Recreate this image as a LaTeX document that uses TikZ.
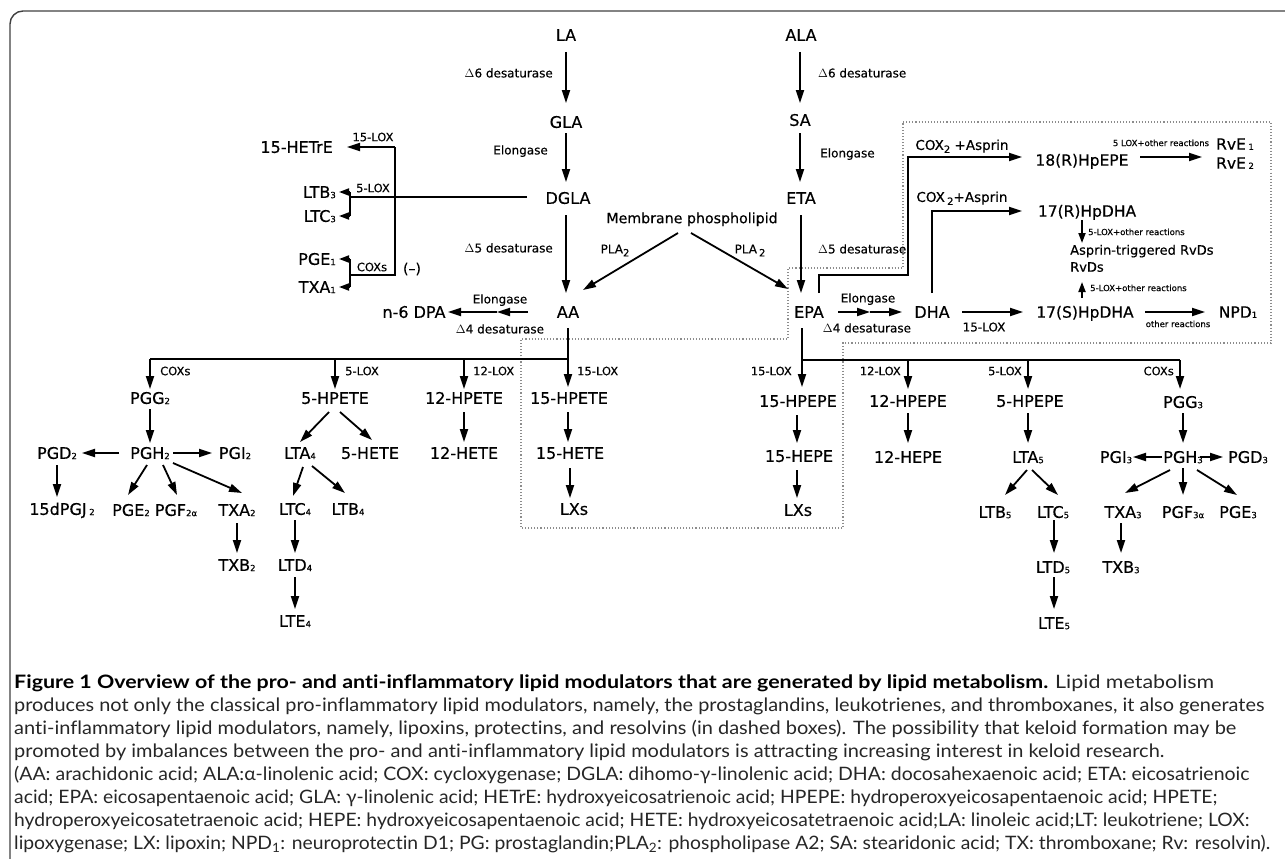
\documentclass[tikz,border=0pt]{standalone}
\usepackage{fontspec}
\usetikzlibrary{arrows.meta,calc}
\setmainfont[FakeBold=0.45]{DejaVu Sans}
\newfontfamily\capfont[Ligatures=NoCommon]{Lato}
\newcommand\sbs[1]{\raisebox{-0.3pt}{\fontsize{8.5}{8.5}\selectfont #1}}
\newcommand\sbl[1]{\raisebox{-3pt}{\fontsize{10}{10}\selectfont #1}}
\begin{document}
\begin{tikzpicture}[x=1pt,y=-1pt,
  nm/.style={font=\fontsize{16}{16}\selectfont, inner sep=0pt, text height=11.7pt, text depth=0pt},
  rv/.style={font=\fontsize{15.5}{15.5}\selectfont, inner sep=0pt, text height=11.3pt, text depth=0pt},
  lab/.style={font=\fontsize{12}{12}\selectfont, inner sep=0pt, text height=8.8pt, text depth=0pt},
  enz/.style={font=\fontsize{11.5}{11.5}\selectfont, inner sep=0pt, text height=8.4pt, text depth=0pt},
  tinylab/.style={font=\fontsize{8.5}{8.5}\selectfont, inner sep=0pt, text height=6.2pt, text depth=0pt},
  arr/.style={line width=1.8pt, -{Triangle[length=13pt,width=8pt]}},
  sarr/.style={line width=1.8pt, -{Triangle[length=10pt,width=7pt]}},
  ln/.style={line width=1.8pt},
  dotbox/.style={black!45, line width=1.1pt, dotted},
  captxt/.style={font=\capfont\fontsize{18.5}{18.5}\selectfont, inner sep=0pt, text=black!85, anchor=base west},
  ]
\useasboundingbox (0,0) rectangle (1285,859);
\clip (0,0) rectangle (1285,859);

% frame
\draw[line width=1.4pt, black!75, rounded corners=13pt] (10,870) -- (10,11) -- (1320,11);

% dotted box
\draw[dotbox] (903,122) -- (1271,122) -- (1271,343) -- (843,343) -- (843,528) -- (521,528)
  -- (521,339) -- (788,339) -- (788,268) -- (903,268) -- cycle;

% ---------- top nodes ----------
\node[nm] (LA) at (566,35) {LA};
\node[nm] (GLA) at (566,122) {GLA};
\node[nm] (DGLA) at (568,198) {DGLA};
\node[nm] (AA) at (568,312) {AA};
\node[nm] (ALA) at (801,35) {ALA};
\node[nm] (SA) at (800,120) {SA};
\node[nm] (ETA) at (801,198) {ETA};
\node[nm] (EPA) at (809,312) {EPA};
\node[nm] (DHA) at (932,312) {DHA};
\node[nm] (n6) at (414,312) {n-6 DPA};
\node[font=\fontsize{14.2}{14.2}\selectfont, inner sep=0pt, text height=10.4pt, text depth=0pt] (mem) at (692,218) {Membrane phospholipid};

\node[lab, anchor=east] (d6L) at (553,73) {$\Delta$6 desaturase};
\node[lab, anchor=west] (d6R) at (818,73) {$\Delta$6 desaturase};
\node[lab, anchor=east] (elL) at (548,150) {Elongase};
\node[lab, anchor=west] (elR) at (820,153) {Elongase};
\node[lab, anchor=east] (d5L) at (553,248) {$\Delta$5 desaturase};
\node[lab, anchor=west] (d5R) at (818,249) {$\Delta$5 desaturase};
\node[lab] (plaL) at (615,249) {PLA\sbl{2}};
\node[lab] (plaR) at (750,249) {PLA\,\sbl{2}};
\node[lab] (el2L) at (500,299) {Elongase};
\node[lab] (d4L) at (500,329) {$\Delta$4 desaturase};
\node[lab] (el2R) at (868,298) {Elongase};
\node[lab] (d4R) at (867,328) {$\Delta$4 desaturase};

\draw[arr] ([shift={(0,17)}]LA.center) -- ([shift={(0,-19)}]GLA.center);
\draw[arr] ([shift={(0,11)}]GLA.center) -- ([shift={(-2,-16)}]DGLA.center);
\draw[arr] ([shift={(-2,17)}]DGLA.center) -- ([shift={(-2,-19)}]AA.center);
\draw[arr] ([shift={(-1,17)}]ALA.center) -- ([shift={(0,-17)}]SA.center);
\draw[arr] ([shift={(0,13)}]SA.center) -- ([shift={(-1,-16)}]ETA.center);
\draw[arr] ([shift={(0,17)}]ETA.center) -- ([shift={(-8,-19)}]EPA.center);
\draw[arr] ([shift={(-14,15)}]mem.center) -- ([shift={(15,-22)}]AA.center);
\draw[arr] ([shift={(-1,15)}]mem.center) -- ([shift={(-21,-23)}]EPA.center);

\coordinate (m1) at (497,312);
\draw[arr] ([shift={(-40,0)}]AA.center) -- (m1);
\draw[arr] (m1) -- ([shift={(34,0)}]n6.center);
\coordinate (m2) at (870,312);
\draw[arr] ([shift={(29,0)}]EPA.center) -- (m2);
\draw[arr] (m2) -- ([shift={(-30,0)}]DHA.center);

% ---------- DGLA side branch ----------
\node[nm, anchor=east] (HETrE) at (333,147) {15-HETrE};
\node[nm, anchor=east] (LTB3) at (336,192) {LTB\sbs{3}};
\node[nm, anchor=east] (LTC3) at (336,216) {LTC\sbs{3}};
\node[nm, anchor=east] (PGE1) at (336,259) {PGE\sbs{1}};
\node[nm, anchor=east] (TXA1) at (336,287) {TXA\sbs{1}};
\node[enz] (l15a) at (373,137) {15-LOX};
\node[enz] (l5a) at (373,188) {5-LOX};
\node[enz] (cxa) at (372,267) {COXs};
\node[font=\fontsize{14}{14}\selectfont, inner sep=0pt] (neg) at (412,269) {(--)};

\coordinate (b5) at (350,197);
\coordinate (b5t) at (350,192);
\coordinate (b5b) at (350,216);
\coordinate (v15t) at (395,147);
\coordinate (v15b) at (395,275);
\coordinate (bc) at (350,275);
\coordinate (bct) at (350,259);
\coordinate (bcb) at (350,287);
\draw[ln] ([shift={(-41,-1)}]DGLA.center) -- (b5);
\draw[ln] (b5t) -- (b5b);
\draw[ln] (v15t) -- (v15b) -- (bc);
\draw[ln] (bct) -- (bcb);
\draw[sarr] (b5t) -- ([xshift=3pt]LTB3.east);
\draw[sarr] (b5b) -- ([xshift=3pt]LTC3.east);
\draw[sarr] (bct) -- ([xshift=3pt]PGE1.east);
\draw[sarr] (bcb) -- ([xshift=3pt]TXA1.east);
\draw[arr] (v15t) -- ([xshift=14pt]HETrE.east);

% ---------- resolvin box ----------
\node[rv] (hp18) at (1082,160) {18(R)HpEPE};
\node[rv] (hp17R) at (1087,211) {17(R)HpDHA};
\node[rv] (hp17S) at (1085,312) {17(S)HpDHA};
\node[rv] (RvE1) at (1235,144) {RvE\,\sbs{1}};
\node[rv] (RvE2) at (1235,163) {RvE\,\sbs{2}};
\node[rv] (NPD) at (1238,312) {NPD\sbs{1}};
\node[font=\fontsize{13}{13}\selectfont, inner sep=0pt, text height=9.4pt, text depth=0pt, anchor=west] (atRvD) at (1070,250) {Asprin-triggered RvDs};
\node[font=\fontsize{13}{13}\selectfont, inner sep=0pt, text height=9.4pt, text depth=0pt, anchor=west] (RvDs) at (1070,267) {RvDs};
\node[font=\fontsize{13.5}{13.5}\selectfont, inner sep=0pt, text height=9.8pt, text depth=0pt] (cx1) at (962,145) {COX\sbl{2} +Asprin};
\node[font=\fontsize{13.5}{13.5}\selectfont, inner sep=0pt, text height=9.8pt, text depth=0pt] (cx2) at (962,197) {COX\,\sbl{2}+Asprin};
\node[tinylab] (r1) at (1161,143) {5 LOX+other reactions};
\node[tinylab, anchor=west] (r2) at (1088,232) {5-LOX+other reactions};
\node[tinylab, anchor=west] (r3) at (1090,288) {5-LOX+other reactions};
\node[tinylab] (r4) at (1178,324) {other reactions};
\node[lab] (l15d) at (984,327) {15-LOX};

\coordinate (c1a) at (819,275);
\coordinate (c1b) at (908,275);
\coordinate (c1c) at (908,157);
\draw[arr] ([shift={(10,-19)}]EPA.center) -- (c1a) -- (c1b) -- (c1c) -- ([shift={(-60,-3)}]hp18.center);
\draw[arr] ([shift={(58,-3)}]hp18.center) -- ([shift={(-33,13)}]RvE1.center);
\coordinate (c2a) at (932,211);
\draw[arr] ([shift={(0,-19)}]DHA.center) -- (c2a) -- ([shift={(-65,0)}]hp17R.center);
\draw[sarr] ([shift={(-5,9)}]hp17R.center) -- ([shift={(12,-7)}]atRvD.west);
\draw[sarr] ([shift={(-3,-14)}]hp17S.center) -- ([shift={(12,15)}]RvDs.west);
\draw[arr] ([shift={(30,0)}]DHA.center) -- ([shift={(-62,0)}]hp17S.center);
\draw[arr] ([shift={(60,0)}]hp17S.center) -- ([shift={(-33,0)}]NPD.center);

% ---------- AA lower tree ----------
\node[nm] (PGG2) at (150,398) {PGG\sbs{2}};
\node[nm] (HPETE5) at (335,398) {5-HPETE};
\node[nm] (HPETE12) at (464,398) {12-HPETE};
\node[nm] (HPETE15) at (569,398) {15-HPETE};
\node[nm] (PGD2) at (57,453) {PGD\sbs{2}};
\node[nm] (PGH2) at (150,453) {PGH\sbs{2}};
\node[nm] (PGI2) at (235,453) {PGI\sbs{2}};
\node[nm] (LTA4) at (300,453) {LTA\sbs{4}};
\node[nm] (HETE5) at (370,453) {5-HETE};
\node[nm] (HETE12) at (464,453) {12-HETE};
\node[nm] (HETE15) at (570,453) {15-HETE};
\node[nm] (PGJ2) at (62,509) {15dPGJ\,\sbs{2}};
\node[nm] (PGE2) at (131,510) {PGE\sbs{2}};
\node[nm] (PGF2) at (176,510) {PGF\sbs{2α}};
\node[nm] (TXA2) at (237,510) {TXA\sbs{2}};
\node[nm] (LTC4) at (295,509) {LTC\sbs{4}};
\node[nm] (LTB4) at (348,509) {LTB\sbs{4}};
\node[nm] (LXa) at (574,509) {LXs};
\node[nm] (TXB2) at (237,565) {TXB\sbs{2}};
\node[nm] (LTD4) at (295,565) {LTD\sbs{4}};
\node[nm] (LTE4) at (295,621) {LTE\sbs{4}};

\node[enz, anchor=west] (cxL) at (160,371) {COXs};
\node[enz, anchor=west] (l5L) at (345,371) {5-LOX};
\node[enz, anchor=west] (l12L) at (473,371) {12-LOX};
\node[enz, anchor=west] (l15L) at (577,371) {15-LOX};

\coordinate (bl) at (150,359);
\coordinate (b5L) at (335,359);
\coordinate (b12L) at (464,359);
\draw[ln] (bl) -- (AA |- bl);
\draw[arr] ([shift={(0,16)}]AA.center) -- ([shift={(-1,-11)}]HPETE15.center);
\draw[arr] (bl) -- ([shift={(0,-9)}]PGG2.center);
\draw[arr] (b5L) -- ([shift={(0,-9)}]HPETE5.center);
\draw[arr] (b12L) -- ([shift={(0,-9)}]HPETE12.center);

\draw[arr] ([shift={(0,11)}]PGG2.center) -- ([shift={(0,-10)}]PGH2.center);
\draw[arr] ([shift={(-31,0)}]PGH2.center) -- ([shift={(25,0)}]PGD2.center);
\draw[arr] ([shift={(23,0)}]PGH2.center) -- ([shift={(-23,0)}]PGI2.center);
\draw[arr] ([shift={(0,12)}]PGD2.center) -- ([shift={(-5,-12)}]PGJ2.center);
\draw[arr] ([shift={(-3,12)}]PGH2.center) -- ([shift={(-3,-15)}]PGE2.center);
\draw[arr] ([shift={(13,12)}]PGH2.center) -- ([shift={(1,-15)}]PGF2.center);
\draw[arr] ([shift={(23,10)}]PGH2.center) -- ([shift={(5,-17)}]TXA2.center);
\draw[arr] ([shift={(0,13)}]TXA2.center) -- ([shift={(0,-12)}]TXB2.center);
\draw[arr] ([shift={(-6,14)}]HPETE5.center) -- ([shift={(0,-11)}]LTA4.center);
\draw[arr] ([shift={(5,14)}]HPETE5.center) -- ([shift={(2,-13)}]HETE5.center);
\draw[arr] ([shift={(3,14)}]LTA4.center) -- ([shift={(-2,-13)}]LTC4.center);
\draw[arr] ([shift={(12,13)}]LTA4.center) -- ([shift={(-3,-16)}]LTB4.center);
\draw[arr] ([shift={(0,11)}]LTC4.center) -- ([shift={(0,-12)}]LTD4.center);
\draw[arr] ([shift={(0,12)}]LTD4.center) -- ([shift={(0,-12)}]LTE4.center);
\draw[arr] ([shift={(0,14)}]HPETE12.center) -- ([shift={(0,-11)}]HETE12.center);
\draw[arr] ([shift={(-1,14)}]HPETE15.center) -- ([shift={(-2,-11)}]HETE15.center);
\draw[arr] ([shift={(0,15)}]HETE15.center) -- ([shift={(-4,-11)}]LXa.center);

% ---------- EPA lower tree ----------
\node[nm] (HPEPE15) at (798,401) {15-HPEPE};
\node[nm] (HPEPE12) at (908,401) {12-HPEPE};
\node[nm] (HPEPE5) at (1030,401) {5-HPEPE};
\node[nm] (PGG3) at (1183,402) {PGG\sbs{3}};
\node[nm] (HEPE15) at (799,456) {15-HEPE};
\node[nm] (HEPE12) at (908,457) {12-HEPE};
\node[nm] (LTA5) at (1028,457) {LTA\sbs{5}};
\node[nm] (PGI3) at (1116,457) {PGI\sbs{3}};
\node[nm] (PGH3) at (1183,457) {PGH\sbs{3}};
\node[nm] (PGD3) at (1248,457) {PGD\sbs{3}};
\node[nm] (LXb) at (798,510) {LXs};
\node[nm] (LTB5) at (995,512) {LTB\sbs{5}};
\node[nm] (LTC5) at (1053,512) {LTC\sbs{5}};
\node[nm] (TXA3) at (1123,512) {TXA\sbs{3}};
\node[nm] (PGF3) at (1183,512) {PGF\sbs{3α}};
\node[nm] (PGE3) at (1238,512) {PGE\sbs{3}};
\node[nm] (LTD5) at (1053,567) {LTD\sbs{5}};
\node[nm] (TXB3) at (1121,567) {TXB\sbs{3}};
\node[nm] (LTE5) at (1054,623) {LTE\sbs{5}};

\node[enz, anchor=east] (l15R) at (792,371) {15-LOX};
\node[enz, anchor=east] (l12R) at (901,371) {12-LOX};
\node[enz, anchor=east] (l5R) at (1022,371) {5-LOX};
\node[enz, anchor=east] (cxR) at (1174,371) {COXs};

\coordinate (bE) at (802,360);
\coordinate (b12R) at (908,360);
\coordinate (b5R) at (1028,360);
\coordinate (bR) at (1180,360);
\draw[ln] (bE) -- (bR);
\draw[arr] ([shift={(-7,16)}]EPA.center) -- ([shift={(4,-14)}]HPEPE15.center);
\draw[arr] (b12R) -- ([shift={(0,-12)}]HPEPE12.center);
\draw[arr] (b5R) -- ([shift={(-2,-12)}]HPEPE5.center);
\draw[arr] (bR) -- ([shift={(-3,-13)}]PGG3.center);

\draw[arr] ([shift={(-1,14)}]HPEPE15.center) -- ([shift={(-2,-13)}]HEPE15.center);
\draw[arr] ([shift={(-2,14)}]HEPE15.center) -- ([shift={(-1,-12)}]LXb.center);
\draw[arr] ([shift={(0,12)}]HPEPE12.center) -- ([shift={(0,-14)}]HEPE12.center);
\draw[arr] ([shift={(-2,12)}]HPEPE5.center) -- ([shift={(0,-14)}]LTA5.center);
\draw[arr] ([shift={(-1,13)}]LTA5.center) -- ([shift={(10,-17)}]LTB5.center);
\draw[arr] ([shift={(4,13)}]LTA5.center) -- ([shift={(5,-17)}]LTC5.center);
\draw[arr] ([shift={(1,8)}]LTC5.center) -- ([shift={(1,-14)}]LTD5.center);
\draw[arr] ([shift={(1,10)}]LTD5.center) -- ([shift={(0,-14)}]LTE5.center);
\draw[arr] ([shift={(0,11)}]PGG3.center) -- ([shift={(0,-14)}]PGH3.center);
\draw[arr] ([shift={(-21,0)}]PGH3.center) -- ([shift={(17,0)}]PGI3.center);
\draw[arr] ([shift={(17,0)}]PGH3.center) -- ([shift={(-25,0)}]PGD3.center);
\draw[arr] ([shift={(-13,13)}]PGH3.center) -- ([shift={(2,-19)}]TXA3.center);
\draw[arr] ([shift={(0,11)}]PGH3.center) -- ([shift={(0,-17)}]PGF3.center);
\draw[arr] ([shift={(14,13)}]PGH3.center) -- ([shift={(-1,-17)}]PGE3.center);
\draw[arr] ([shift={(-2,11)}]TXA3.center) -- ([shift={(0,-14)}]TXB3.center);

% ---------- caption ----------
\node[captxt] (cap1) at (14,688) {\resizebox{1200pt}{\height}{{\bfseries\color{black}Figure 1 Overview of the pro- and anti-inflammatory lipid modulators that are generated by lipid metabolism.} Lipid metabolism}};
\node[captxt] (cap2) at (14,711) {\resizebox{1250pt}{\height}{produces not only the classical pro-inflammatory lipid modulators, namely, the prostaglandins, leukotrienes, and thromboxanes, it also generates}};
\node[captxt] (cap3) at (14,734) {\resizebox{1222pt}{\height}{anti-inflammatory lipid modulators, namely, lipoxins, protectins, and resolvins (in dashed boxes). The possibility that keloid formation may be}};
\node[captxt] (cap4) at (14,757) {\resizebox{1150pt}{\height}{promoted by imbalances between the pro- and anti-inflammatory lipid modulators is attracting increasing interest in keloid research.}};
\node[captxt] (cap5) at (14,780) {\resizebox{1235pt}{\height}{(AA: arachidonic acid; ALA:α-linolenic acid; COX: cycloxygenase; DGLA: dihomo-γ-linolenic acid; DHA: docosahexaenoic acid; ETA: eicosatrienoic}};
\node[captxt] (cap6) at (14,803) {\resizebox{1203pt}{\height}{acid; EPA: eicosapentaenoic acid; GLA: γ-linolenic acid; HETrE: hydroxyeicosatrienoic acid; HPEPE: hydroperoxyeicosapentaenoic acid; HPETE;}};
\node[captxt] (cap7) at (14,826) {\resizebox{1235pt}{\height}{hydroperoxyeicosatetraenoic acid; HEPE: hydroxyeicosapentaenoic acid; HETE: hydroxyeicosatetraenoic acid;LA: linoleic acid;LT: leukotriene; LOX:}};
\node[captxt] (cap8) at (14,849) {\resizebox{1256pt}{\height}{lipoxygenase; LX: lipoxin; NPD\textsubscript{1}: neuroprotectin D1; PG: prostaglandin;PLA\textsubscript{2}: phospholipase A2; SA: stearidonic acid; TX: thromboxane; Rv: resolvin).}};
\end{tikzpicture}
\end{document}
